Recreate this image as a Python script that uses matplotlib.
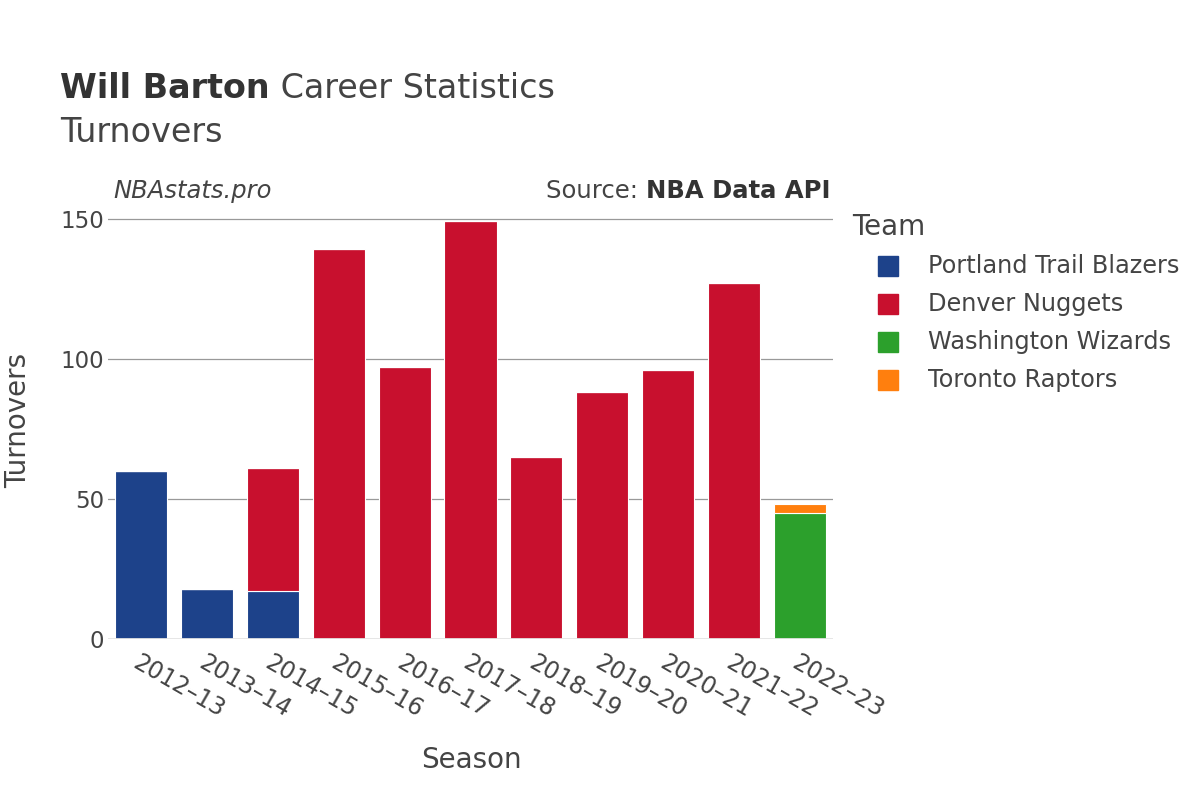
import matplotlib.pyplot as plt
from matplotlib.lines import Line2D

# --- Data ---
seasons = ["2012–13", "2013–14", "2014–15", "2015–16", "2016–17", "2017–18",
           "2018–19", "2019–20", "2020–21", "2021–22", "2022–23"]
teams = ["Portland Trail Blazers", "Denver Nuggets", "Washington Wizards", "Toronto Raptors"]
team_colors = ["#1d428a", "#c8102e", "#2ca02c", "#ff7f0e"]

portland = [60, 18, 17, 0, 0, 0, 0, 0, 0, 0, 0]
denver = [0, 0, 44, 139, 97, 149, 65, 88, 96, 127, 0]
washington = [0, 0, 0, 0, 0, 0, 0, 0, 0, 0, 45]
toronto = [0, 0, 0, 0, 0, 0, 0, 0, 0, 0, 3]
series = [portland, denver, washington, toronto]

plt.rcParams['font.family'] = ['DejaVu Sans']
W, H = 1200, 800
fig = plt.figure(figsize=(12, 8), dpi=100)
ax = fig.add_axes([108 / W, 1 - 639 / H, 725 / W, 440 / H])
renderer = fig.canvas.get_renderer()

x = list(range(len(seasons)))
bottom = [0] * len(seasons)
for vals, color in zip(series, team_colors):
    ax.bar(x, vals, bottom=bottom, width=0.79, color=color,
           edgecolor="white", linewidth=0.8, zorder=3)
    bottom = [b + v for b, v in zip(bottom, vals)]

ax.set_xlim(-0.5, len(seasons) - 0.5)
ax.set_ylim(0, 157)
ax.set_yticks([0, 50, 100, 150])
ax.grid(axis="y", color="#999999", linewidth=0.9, zorder=0)
ax.axhline(0, color="#e5e5e5", linewidth=2, zorder=4)
for s in ax.spines.values():
    s.set_visible(False)
ax.tick_params(axis="both", length=0, colors="#444444")
ax.tick_params(axis="y", labelsize=16.5, pad=3)
ax.set_xticks(x)
ax.set_xticklabels(seasons, rotation=-30, ha="left", rotation_mode="anchor", fontsize=17)
ax.tick_params(axis="x", pad=8)

# --- Astitels ---
fig.text(471 / W, 1 - 760 / H, "Season", fontsize=20, color="#444444", ha="center", va="center")
fig.text(18 / W, 1 - 420 / H, "Turnovers", fontsize=20, color="#444444",
         ha="center", va="center", rotation=90)

# --- Titels ---
t1 = fig.text(60 / W, 1 - 88 / H, "Will Barton", fontsize=24, fontweight="bold",
              color="#333333", va="center")
bb = t1.get_window_extent(renderer=renderer)
fig.text(bb.x1 / W, 1 - 88 / H, " Career Statistics", fontsize=24, color="#444444", va="center")
fig.text(60 / W, 1 - 132 / H, "Turnovers", fontsize=24, color="#444444", va="center")

fig.text(113 / W, 1 - 191 / H, "NBAstats.pro", fontsize=17.5, style="italic",
         color="#444444", va="center")
src = fig.text(830 / W, 1 - 191 / H, "NBA Data API", fontsize=17.5, fontweight="bold",
               color="#333333", va="center", ha="right")
bb = src.get_window_extent(renderer=renderer)
fig.text(bb.x0 / W, 1 - 191 / H, "Source: ", fontsize=17.5, color="#444444",
         va="center", ha="right")

# --- Legenda ---
fig.text(852 / W, 1 - 227 / H, "Team", fontsize=20, color="#444444", va="center")
for i, (team, color) in enumerate(zip(teams, team_colors)):
    yc = 1 - (266 + 38 * i) / H
    fig.add_artist(Line2D([888 / W], [yc], transform=fig.transFigure, marker="s",
                          linestyle="", markersize=15, markerfacecolor=color,
                          markeredgecolor=color))
    fig.text(928 / W, yc, team, fontsize=17.3, color="#444444", va="center")

fig.savefig("out.png")
